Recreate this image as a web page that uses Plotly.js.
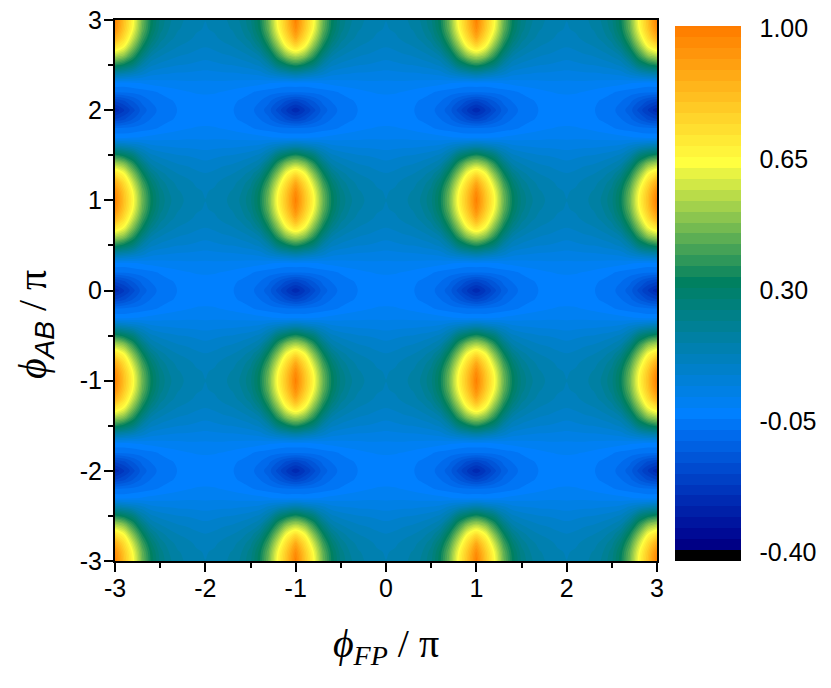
<!DOCTYPE html>
<html>
<head>
<meta charset="utf-8">
<script src="https://cdn.plot.ly/plotly-3.0.1.min.js"></script>
<style>html,body{margin:0;padding:0;background:#fff}</style>
</head>
<body>
<div id="chart" style="width:831px;height:688px"></div>
<script>
// One period cell: rows = distance from an odd phi_AB (0 to 1 in tenths),
// columns = distance from an odd phi_FP (0 to 1 in tenths). The map repeats this cell mirrored.
const cellRows = [
  [1.000,0.820,0.660,0.470,0.335,0.250,0.205,0.176,0.164,0.148,0.140],
  [0.965,0.800,0.640,0.455,0.325,0.240,0.197,0.171,0.160,0.144,0.137],
  [0.875,0.740,0.580,0.410,0.290,0.215,0.180,0.158,0.148,0.134,0.126],
  [0.730,0.645,0.490,0.345,0.235,0.180,0.155,0.138,0.129,0.118,0.111],
  [0.550,0.500,0.385,0.260,0.170,0.141,0.124,0.111,0.105,0.096,0.091],
  [0.360,0.320,0.265,0.168,0.118,0.100,0.090,0.082,0.079,0.074,0.068],
  [0.160,0.140,0.115,0.089,0.062,0.054,0.050,0.046,0.045,0.042,0.040],
  [-0.015,-0.018,-0.012,-0.004,0.003,0.008,0.011,0.013,0.016,0.017,0.016],
  [-0.063,-0.061,-0.056,-0.050,-0.043,-0.032,-0.022,-0.014,-0.008,-0.004,-0.003],
  [-0.180,-0.157,-0.121,-0.086,-0.063,-0.050,-0.040,-0.030,-0.024,-0.017,-0.016],
  [-0.260,-0.215,-0.162,-0.110,-0.078,-0.056,-0.045,-0.034,-0.030,-0.022,-0.020]
];
const mirrorPattern = [0,1,2,3,4,5,6,7,8,9,10,9,8,7,6,5,4,3,2,1];
const xTicks = [-3,-2,-1,0,1,2,3];
const xTickLabels = ['-3','-2','-1','0','1','2','3'];
const minorTicks = [-2.5,-1.5,-0.5,0.5,1.5,2.5];
const barLabelValues = [-0.40,-0.05,0.30,0.65,1.00];
const barLabels = ['-0.40','-0.05','0.30','0.65','1.00'];
const levelStart = -0.4146, levelEnd = 1.0146, levelSize = 0.029167;
const colorStops = [
  [-0.4146,'#000000'],[-0.3860,'#000000'],[-0.3700,'#00008c'],
  [-0.0200,'#0080ff'],[0.3300,'#008060'],[0.6500,'#ffff40'],
  [1.0000,'#ff8000'],[1.0146,'#ff7c00']
];

const zGrid = [];
for (let r = 0; r <= 60; r++) {
  const row = [];
  for (let c = 0; c <= 60; c++) {
    row.push(cellRows[mirrorPattern[r % 20]][mirrorPattern[c % 20]]);
  }
  zGrid.push(row);
}
const scale = colorStops.map(s => [(s[0]-levelStart)/(levelEnd-levelStart), s[1]]);

const sansFont = 'Liberation Sans, Arial, sans-serif';
const trace = {
  type: 'contour', z: zGrid, x0: -3, dx: 0.1, y0: -3, dy: 0.1,
  zmin: levelStart, zmax: levelEnd, colorscale: scale,
  autocontour: false,
  contours: {start: levelStart, end: levelEnd, size: levelSize, coloring: 'fill', showlines: false},
  line: {width: 0, smoothing: 1},
  colorbar: {
    lenmode: 'pixels', len: 535, thicknessmode: 'pixels', thickness: 66,
    x: 1.0332, xanchor: 'left', xpad: 0, y: 0, yanchor: 'bottom', ypad: 0,
    outlinewidth: 0, ticks: 'outside', ticklen: 14, tickwidth: 0, tickcolor: 'rgba(0,0,0,0)', tickmode: 'array',
    tickvals: barLabelValues.map(v => v + 0.008), ticktext: barLabels,
    tickfont: {family: sansFont, size: 25, color: '#000'}
  },
  hoverinfo: 'skip'
};

const axisBase = {
  tickmode: 'array', tickvals: xTicks, ticktext: xTickLabels,
  range: [-3, 3], ticks: 'outside', ticklen: 9, tickwidth: 2, tickcolor: '#000',
  showline: true, linewidth: 2, linecolor: '#000', mirror: true,
  showgrid: false, zeroline: false,
  tickfont: {family: sansFont, size: 25, color: '#000'},
  minor: {tickmode: 'array', tickvals: minorTicks, ticks: 'outside', ticklen: 5, tickwidth: 2, tickcolor: '#000', showgrid: false}
};
const titleFont = {family: 'Liberation Serif, Times New Roman, serif', size: 40, color: '#000'};

const layout = {
  width: 831, height: 688, paper_bgcolor: '#fff', plot_bgcolor: '#fff',
  margin: {l: 115, r: 174, t: 20, b: 127},
  showlegend: false,
  xaxis: Object.assign({}, axisBase, {ticklabelstandoff: -5, title: {text: '<i>ϕ<sub>FP</sub></i> / π', font: titleFont, standoff: 28}}),
  yaxis: Object.assign({}, axisBase, {ticklabelstandoff: -3}),
  annotations: [{
    xref: 'paper', yref: 'paper', x: -0.1476, y: 0.436, xanchor: 'center', yanchor: 'middle',
    textangle: -90, showarrow: false,
    text: "<i>ϕ</i><sub><span style=\"font-family:'Liberation Sans'\"><i>AB</i></span></sub> / π",
    font: titleFont
  }]
};
Plotly.newPlot('chart', [trace], layout, {displayModeBar: false, staticPlot: true});
</script>
</body>
</html>
